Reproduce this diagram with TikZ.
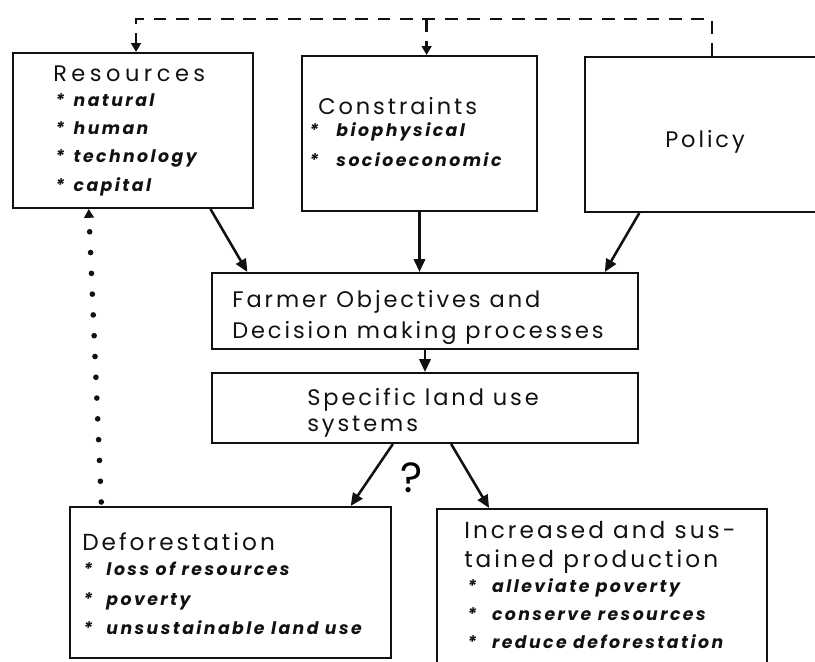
\documentclass[tikz,border=0pt]{standalone}
\usepackage{fontspec}
\setmainfont{Poppins}
\newfontfamily\headfont[LetterSpace=13]{Poppins}
\newfontfamily\itemfont[LetterSpace=14]{Poppins}
\usetikzlibrary{arrows.meta,positioning,calc}
\definecolor{ink}{HTML}{111111}
\newcommand{\bul}[1]{\makebox[#1][l]{*}}
\tikzset{
  box/.style={draw=ink,line width=1.4pt,inner sep=0pt},
  head/.style={anchor=base west,inner sep=0pt,text=ink,
               font=\headfont\fontsize{16}{18}\selectfont},
  bighead/.style={head,font=\headfont\fontsize{16.5}{19}\selectfont},
  item/.style={anchor=base west,inner sep=0pt,text=ink,
               font=\itemfont\bfseries\itshape\fontsize{12.3}{14}\selectfont},
  flow/.style={-{Triangle[length=3.2mm,width=2.8mm]},line width=1.8pt,draw=ink},
  fbline/.style={line width=1.6pt,dash pattern=on 3.2mm off 2.4mm,draw=ink},
  fbarrow/.style={fbline,-{Triangle[length=2.2mm,width=2.4mm]}},
  backdots/.style={line width=4pt,line cap=round,dash pattern=on 0pt off 5.2mm,
                   draw=ink,-{Triangle[length=2.2mm,width=2.4mm]}}
}
\begin{document}
\begin{tikzpicture}[x=0.025cm,y=-0.025cm]
  \useasboundingbox (0,0) rectangle (815,662);

  % boxes
  \node[box,minimum width=6cm,minimum height=3.875cm] (res) at (133,130.5) {};
  \node[box,minimum width=5.875cm,minimum height=3.875cm] (con) at (419.5,133.5) {};
  \node[box,minimum width=6.125cm,minimum height=3.875cm] (pol) at (707.5,134.5) {};
  \node[box,minimum width=10.65cm,minimum height=1.9cm] (farm) at (425,311) {};
  \node[box,minimum width=10.65cm,minimum height=1.75cm] (spec) at (425,408) {};
  \node[box,minimum width=8.025cm,minimum height=3.775cm] (def) at (230.5,582.5) {};
  \node[box,minimum width=8.25cm,minimum height=4.275cm] (inc) at (602,594.5) {};

  % texts
  \node[head] (res-t) at (53,82) {\addfontfeature{LetterSpace=20}Resources};
  \foreach \txt/\y [count=\i] in {natural/107,human/135,technology/163,capital/192}
    \node[item] (res-\i) at (55,\y) {\bul{0.46cm}\txt};
  \node[head] (con-t) at (318,115) {Constraints};
  \foreach \txt/\y [count=\i] in {biophysical/137,socioeconomic/167}
    \node[item] (con-\i) at (309,\y) {\bul{0.68cm}\txt};
  \node[head,anchor=base] (pol-t) at (705,148) {Policy};
  \node[head] (farm-1) at (232,308) {Farmer Objectives and};
  \node[head] (farm-2) at (232,339) {Decision making processes};
  \node[head] (spec-1) at (307,405) {Specific land use};
  \node[head] (spec-2) at (307,431) {systems};
  \node[bighead] (def-t) at (82,550) {Deforestation};
  \foreach \txt/\y [count=\i] in {loss of resources/575,poverty/605,unsustainable land use/634}
    \node[item] (def-\i) at (83,\y) {\bul{0.58cm}\txt};
  \node[bighead] (inc-1) at (464,538) {Increased and sus-};
  \node[bighead] (inc-2) at (464,567) {tained production};
  \foreach \txt/\y [count=\i] in {alleviate poverty/592,conserve resources/620,reduce deforestation/648}
    \node[item] (inc-\i) at (467,\y) {\bul{0.62cm}\txt};
  \node[anchor=center,inner sep=0pt,font=\fontsize{30}{30}\selectfont] (qm) at (412,478) {?};

  % main flow
  \draw[flow] ($(res.south west)!0.82!(res.south east)$) -- ($(farm.north west)!0.085!(farm.north east)$);
  \draw[flow] (con.south) -- (con.south |- farm.north);
  \draw[flow] ($(pol.south west)!0.224!(pol.south east)$) -- ($(farm.north west)!0.92!(farm.north east)$);
  \draw[flow] (farm.south) -- (spec.north);
  \draw[flow] ($(spec.south west)!0.425!(spec.south east)$) -- ($(def.north west)!0.872!(def.north east)$);
  \draw[flow] ($(spec.south west)!0.561!(spec.south east)$) -- ($(inc.north west)!0.16!(inc.north east)$);

  % feedback
  \coordinate (cnt) at ($(con.north west)!0.53!(con.north east)$);
  \draw[fbarrow] ($(pol.north west)!0.518!(pol.north east)$) -- ++(0,-37) coordinate (fbr)
    -| ($(res.north west)!0.5125!(res.north east)$);
  \draw[fbarrow] (cnt |- fbr) -- (cnt);
  \draw[backdots] ($(def.north west)!0.1!(def.north east)+(0,-4)$) -- ($(res.south west)!0.317!(res.south east)$);
\end{tikzpicture}
\end{document}
